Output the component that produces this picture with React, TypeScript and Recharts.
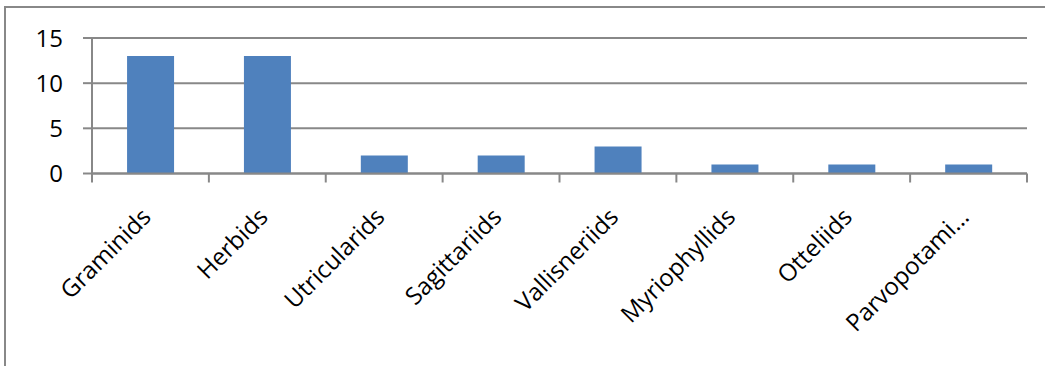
import React from 'react';
import { BarChart, Bar, XAxis, YAxis, CartesianGrid } from 'recharts';

const categories = ['Graminids', 'Herbids', 'Utricularids', 'Sagittariids', 'Vallisneriids', 'Myriophyllids', 'Otteliids', 'Parvopotami…'];
const counts = [13, 13, 2, 2, 3, 1, 1, 1];
const yTicks = [0, 5, 10, 15];

const data = categories.map((name, i) => ({ name, value: counts[i] }));

const AXIS = '#888888';
const FONT = '"Open Sans", sans-serif';

const XTick = (props: any) => {
  const { x, y, payload, index, visibleTicksCount, width } = props;
  const step = width / visibleTicksCount;
  const isLast = index === visibleTicksCount - 1;
  const ax = x + 2;
  const ay = y + 45;
  return (
    <g>
      <line x1={x - step / 2} x2={x - step / 2} y1={y} y2={y + 9} stroke={AXIS} strokeWidth={2} />
      {isLast && <line x1={x + step / 2} x2={x + step / 2} y1={y} y2={y + 9} stroke={AXIS} strokeWidth={2} />}
      <text
        x={ax}
        y={ay}
        textAnchor="end"
        transform={`rotate(-45, ${ax}, ${ay})`}
        fill="#000"
        fontSize={24}
        fontFamily={FONT}
      >
        {payload.value}
      </text>
    </g>
  );
};

export default function App() {
  return (
    <div style={{ position: 'absolute', left: 0, top: 0, width: 1045, height: 366, overflow: 'hidden', background: '#fff' }}>
      <div style={{ position: 'absolute', left: 4, top: 6, width: 1100, height: 420, border: `2px solid ${AXIS}`, boxSizing: 'border-box' }} />
      <div style={{ position: 'absolute', left: 0, top: 0 }}>
        <BarChart width={1045} height={366} data={data} margin={{ top: 38, right: 18, left: 0, bottom: 0 }} barCategoryGap="30%">
          <CartesianGrid vertical={false} stroke={AXIS} strokeWidth={2} />
          <XAxis
            dataKey="name"
            height={192.5}
            interval={0}
            tickLine={false}
            tickSize={0}
            tickMargin={0}
            axisLine={{ stroke: AXIS, strokeWidth: 2 }}
            tick={<XTick />}
          />
          <YAxis
            width={92}
            domain={[0, 15]}
            ticks={yTicks}
            interval={0}
            tickSize={9}
            tickMargin={20}
            axisLine={{ stroke: AXIS, strokeWidth: 2 }}
            tickLine={{ stroke: AXIS, strokeWidth: 2 }}
            tick={{ fill: '#000', fontSize: 24, fontFamily: FONT }}
          />
          <Bar dataKey="value" fill="#4F81BD" isAnimationActive={false} />
        </BarChart>
      </div>
    </div>
  );
}
